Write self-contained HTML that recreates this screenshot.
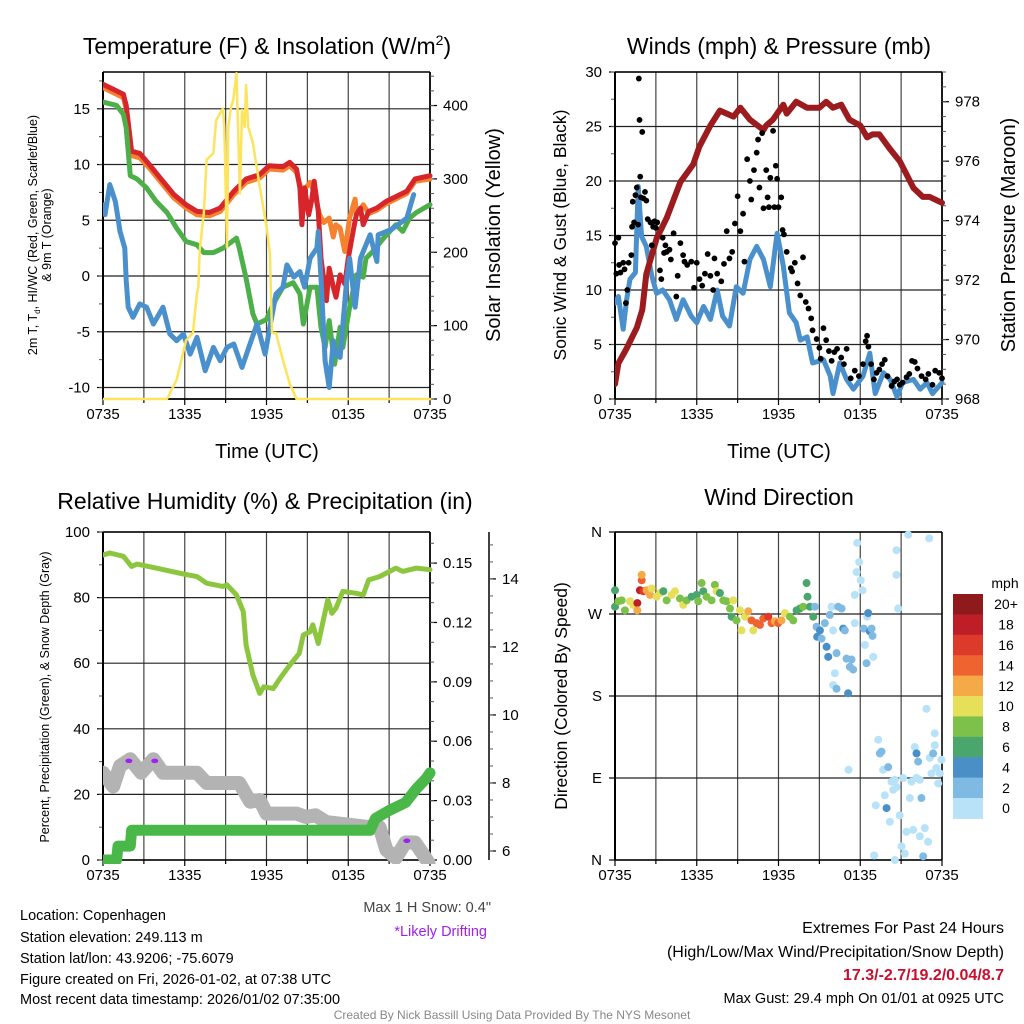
<!DOCTYPE html>
<html><head><meta charset="utf-8"><title>Mesonet Station Summary</title>
<style>
html,body{margin:0;padding:0;background:#fff;}
svg{display:block;font-family:"Liberation Sans",Arial,sans-serif;}
</style></head>
<body>
<svg id="fig" width="1024" height="1024" viewBox="0 0 1024 1024" xmlns="http://www.w3.org/2000/svg">
<rect width="1024" height="1024" fill="#fff"/>
<text x="267" y="54" font-size="23" text-anchor="middle">Temperature (F) &amp; Insolation (W/m<tspan font-size="14" dy="-9">2</tspan><tspan dy="9">)</tspan></text>
<text x="779" y="54" font-size="23" text-anchor="middle">Winds (mph) &amp; Pressure (mb)</text>
<text x="265" y="509" font-size="23" text-anchor="middle">Relative Humidity (%) &amp; Precipitation (in)</text>
<text x="779" y="505" font-size="23" text-anchor="middle">Wind Direction</text>
<text x="267" y="458" font-size="20" text-anchor="middle">Time (UTC)</text>
<text x="779" y="458" font-size="20" text-anchor="middle">Time (UTC)</text>
<text transform="translate(37,235) rotate(-90)" font-size="12.5" text-anchor="middle">2m T, T<tspan font-size="8" dy="3">d</tspan><tspan dy="-3">, HI/WC (Red, Green, Scarlet/Blue)</tspan></text>
<text transform="translate(51,235) rotate(-90)" font-size="12.5" text-anchor="middle">&amp; 9m T (Orange)</text>
<text transform="translate(500,235) rotate(-90)" font-size="20" text-anchor="middle">Solar Insolation (Yellow)</text>
<text transform="translate(566,235) rotate(-90)" font-size="17.5" text-anchor="middle">Sonic Wind &amp; Gust (Blue, Black)</text>
<text transform="translate(1015,235) rotate(-90)" font-size="20" text-anchor="middle">Station Pressure (Maroon)</text>
<text transform="translate(49,697) rotate(-90)" font-size="12.5" text-anchor="middle">Percent, Precipitation (Green), &amp; Snow Depth (Gray)</text>
<text transform="translate(567,696) rotate(-90)" font-size="17.5" text-anchor="middle">Direction (Colored By Speed)</text>
<g font-size="14.5">
<text x="20" y="920">Location: Copenhagen</text>
<text x="20" y="942">Station elevation: 249.113 m</text>
<text x="20" y="963">Station lat/lon: 43.9206; -75.6079</text>
<text x="20" y="984">Figure created on Fri, 2026-01-02, at 07:38 UTC</text>
<text x="20" y="1004">Most recent data timestamp: 2026/01/02 07:35:00</text>
</g>
<text x="491" y="912" font-size="14.5" fill="#444" text-anchor="end">Max 1 H Snow: 0.4"</text>
<text x="487" y="936" font-size="14.5" fill="#a020f0" text-anchor="end">*Likely Drifting</text>
<text x="1004" y="933" font-size="16" text-anchor="end">Extremes For Past 24 Hours</text>
<text x="1004" y="957" font-size="16" text-anchor="end">(High/Low/Max Wind/Precipitation/Snow Depth)</text>
<text x="1004" y="980" font-size="16" font-weight="bold" fill="#c8102e" text-anchor="end">17.3/-2.7/19.2/0.04/8.7</text>
<text x="1004" y="1003" font-size="14.5" text-anchor="end">Max Gust: 29.4 mph On 01/01 at 0925 UTC</text>
<text x="512" y="1019" font-size="12" fill="#888" text-anchor="middle">Created By Nick Bassill Using Data Provided By The NYS Mesonet</text>
</svg>
<script>
const timeTickHours=[0,6,12,18,24];
const timeTickLabels=["0735","1335","1935","0135","0735"];
const tempTicks=[-10,-5,0,5,10,15];
const solarTicks=[0,100,200,300,400];
const windTicks=[0,5,10,15,20,25,30];
const pressureTicks=[968,970,972,974,976,978];
const rhTicks=[0,20,40,60,80,100];
const precipTicks=[0,0.03,0.06,0.09,0.12,0.15];
const precipTickLabels=["0.00","0.03","0.06","0.09","0.12","0.15"];
const snowTicks=[6,8,10,12,14];
const dirTicks=[0,90,180,270,360];
const dirTickLabels=["N","E","S","W","N"];
const speedBinLabels=["0","2","4","6","8","10","12","14","16","18","20+"];
const speedBinColors=["#b8e2f7","#7fbae3","#4a8fc6","#4aa66c","#7ec14a","#e5df5a","#f6a947","#ee6330","#dc3a2a","#be1e27","#8f1a1c"];

const tempHours=[0,1.5,1.7,2.1,2.7,3.4,4.2,5.2,6.1,6.9,7.8,8.6,9.6,10.5,11.5,12.2,13.2,13.7,14.2,14.45,14.6,14.8,15.1,15.3,15.5,15.8,16.0,16.4,16.6,16.9,17.1,17.4,17.75,18,18.4,18.6,18.9,19.1,19.5,20.1,20.8,21.8,22.3,22.9,24];
const tempValues=[17.2,16.3,15.3,11.2,11,10,8.8,7.3,6.4,5.8,5.7,6.1,7.6,8.7,9.1,9.9,9.8,10.2,9.6,7.9,4.6,7.9,5.5,6.7,8.5,5.8,1.6,-2.2,0.7,-1,-1.9,0.1,-0.7,1.6,4.3,5.5,6.1,4.6,5.8,6.1,6.7,7.3,7.6,8.7,9.0];
const orangeHours=[0,1.5,1.7,2.1,2.7,3.4,4.2,5.2,6.1,6.9,7.8,8.6,9.6,10.5,11.5,12.2,13.2,13.7,14.2,14.5,14.8,15.2,15.5,15.9,16.2,16.6,16.9,17.1,17.4,17.75,18.1,18.5,18.6,18.9,19.1,19.5,20.1,20.8,21.8,22.3,22.9,24];
const orangeValues=[16.9,16,15,10.8,10.6,9.7,8.5,7,6.1,5.5,5.4,5.8,7.3,8.4,8.8,9.6,9.5,9.9,9.3,8.0,7.8,8.4,7.5,5.5,4.8,5.2,3.5,4.6,4.3,2.2,5.2,6.9,5.5,5.9,6.4,5.6,5.9,6.5,7.1,7.4,8.5,8.7];
const greenHours=[0,1,1.5,1.7,2,2.5,3.2,3.9,4.7,5.4,6.1,6.9,7.4,8.1,8.8,9.8,10,10.5,11,11.3,12,12.5,13.2,13.96,14.45,14.7,15.2,15.7,16,16.3,16.6,17,17.4,17.6,18.1,18.6,19.1,19.3,19.8,20.6,21.5,22,22.5,23,24];
const greenValues=[15.6,15.3,14.5,13.3,9,8.7,7.9,6.7,5.7,4.3,3.1,2.8,2.1,2.1,2.5,3.4,2.5,-0.2,-3.4,-4.3,-3.9,-2.5,-1,-0.6,-1.6,-4.3,-1,-1,-4.6,-6.4,-4,-7.9,-4.6,-6.4,-2.8,0.1,-0.1,1.6,2.2,3.4,4.6,4.0,5.2,5.7,6.4];
const blueHours=[0,0.15,0.5,0.9,1.1,1.25,1.6,1.7,1.85,2.2,2.7,3.2,3.7,4.4,4.9,5.4,5.9,6.4,6.9,7.5,8.1,8.6,9.1,9.6,10.2,10.7,11.3,11.9,12.2,12.7,13.2,13.5,14,14.45,14.8,15.2,15.7,15.8,16.0,16.3,16.6,16.9,17.1,17.4,17.9,18.1,18.5,18.9,19.3,19.6,20.1,20.2,21.2,22.3,22.8];
const blueValues=[6.4,5.5,8.2,6.7,5.2,4,2.5,-0.4,-2.8,-3.7,-2.5,-2.8,-4.3,-2.8,-5.2,-5.8,-5.2,-7,-5.5,-8.5,-6.4,-7.6,-6.4,-6.1,-8.2,-6.4,-4.3,-7,-4.9,-1.6,-1,1,-0.1,0.4,-1,1.6,2.5,4,-0.2,-7.6,-10,-5.8,-7,-7.3,-0.1,1.6,-2.8,1.6,2.8,3.7,1.3,3.7,4.2,5.2,7.3];
const solarHours=[0,4.7,5.4,6.1,6.6,6.9,7.0,7.1,7.4,7.6,8.1,8.3,8.8,8.9,9.1,9.2,9.4,9.56,9.8,10.05,10.2,10.4,10.5,10.66,11.0,11.5,12,12.25,12.4,12.7,13.2,13.7,14.2,24];
const solarValues=[0,0,26,80,90,144,153,203,253,326,335,380,396,371,207,371,398,408,444,280,394,371,428,371,349,290,235,199,90,90,53,21,0,0];

const windHours=[0,0.25,0.6,0.85,1.1,1.5,1.7,1.95,2.3,2.7,3.05,3.5,4.0,4.5,5.0,5.6,6,6.5,7,7.5,7.9,8.4,8.9,9.4,9.9,10.4,10.9,11.4,11.9,12.35,12.8,13.3,13.6,14.1,14.5,15.3,15.8,16,16.5,17,17.5,18.2,18.7,19.1,19.7,20.2,20.7,21.1,21.9,22.4,22.9,23.3,24];
const windValues=[8.8,9.4,6.4,9.1,11,11.6,19.5,14.9,14,11.3,9.7,10,9.1,7.3,9.1,7.6,7,8.5,7.3,10,7.6,6.7,10.3,9.7,12.8,14,12.8,10.3,15.2,12.2,7.9,7,5.4,5.7,3.3,3.6,2.1,0.5,3.3,1.8,0.9,2.1,4.2,0.5,2.4,1.8,0.2,1.5,1.8,0.9,1.5,0.5,1.5];
const pressureHours=[0,0.25,0.85,1.6,2,2.3,3.05,3.8,4.8,5.75,6.2,7,7.7,8.7,9.2,9.9,10.9,11.1,11.6,12.35,12.6,13.3,14.1,15,15.5,16,16.6,17.2,18,18.5,18.9,19.4,20.2,20.9,21.9,22.6,23.1,24];
const pressureValues=[968.5,969.2,969.7,970.4,971,972.2,973.4,974.1,975.3,975.9,976.5,977.2,977.7,977.5,977.8,977.4,977.05,977.2,977.4,977.9,977.6,978,977.8,977.8,978,977.8,977.9,977.4,977.2,976.8,976.9,976.9,976.4,976,975.1,974.8,974.8,974.6];
const gustObs=[[0,14.3],[0.1,11.5],[0.25,14.8],[0.3,12.3],[0.4,11.6],[0.6,12.5],[0.7,11.9],[0.8,8.8],[0.9,10],[1.0,12.5],[1.2,13.2],[1.25,15.8],[1.3,18.1],[1.4,16.2],[1.5,18.7],[1.6,19.4],[1.7,16],[1.75,29.4],[1.8,25.6],[1.85,20.4],[1.9,18.5],[2.0,24.5],[2.1,18.4],[2.2,19],[2.3,18.2],[2.4,16.5],[2.6,16.2],[2.7,14.1],[2.8,15.8],[2.9,16.3],[3.0,15.7],[3.1,16.2],[3.3,11.8],[3.4,11],[3.5,14.8],[3.6,13.4],[3.7,14.1],[3.8,13.5],[4.0,13.7],[4.1,12.8],[4.3,15.2],[4.5,9.4],[4.6,11.3],[4.8,14.3],[5.0,13.2],[5.1,12.6],[5.3,12.3],[5.6,12.6],[5.8,10.2],[6.0,12.5],[6.2,11],[6.4,10.4],[6.6,11.5],[6.8,13.3],[7.0,11.3],[7.2,10],[7.3,12.9],[7.5,11.5],[7.8,10.8],[8.0,12.4],[8.2,15.4],[8.4,12.9],[8.6,13.5],[8.8,16.1],[9.0,18.6],[9.2,15.4],[9.4,17],[9.5,12.6],[9.7,22],[9.9,20],[10.0,18.3],[10.2,21],[10.4,22.6],[10.5,23.8],[10.6,19.4],[10.8,24.4],[10.9,17.5],[11.1,21],[11.2,18.5],[11.3,17.6],[11.4,20.3],[11.6,24.6],[11.7,17.6],[11.8,21.4],[11.9,20.2],[12.0,17.6],[12.2,18.5],[12.3,15.5],[12.4,15.1],[12.6,13.5],[12.9,12],[13.0,11.7],[13.2,12.5],[13.4,10.6],[13.6,9.5],[13.8,13],[14.0,8.9],[14.2,8.3],[14.4,7.4],[14.5,6.3],[14.8,5.5],[15.0,4.7],[15.1,3.7],[15.3,6.5],[15.5,5.4],[15.7,4.4],[15.9,3.5],[16.1,4.3],[16.3,4.6],[16.6,3.8],[16.8,3.2],[17.0,4.6],[17.3,1.9],[17.6,2.6],[17.9,2.1],[18.2,3.2],[18.4,5.3],[18.5,5.8],[18.6,4.8],[18.8,3.2],[19.0,1.8],[19.2,2.4],[19.4,2.7],[19.6,3.2],[19.8,3.6],[20.0,2.1],[20.3,1.2],[20.5,1.6],[20.7,1.8],[20.9,1.3],[21.1,1.5],[21.4,2],[21.6,2.3],[21.8,3.5],[22.0,3.4],[22.2,2.8],[22.5,2.1],[22.8,1.8],[23.0,2.3],[23.3,1.3],[23.5,2.6],[23.8,2.4],[24,1.9]];

const rhHours=[0,0.5,1.5,2.1,2.5,3.9,5.9,6.9,7.6,8.8,9.1,9.8,10.3,10.5,11,11.5,11.8,12.5,13,13.7,14.4,14.7,15.2,15.4,15.8,16.2,16.5,16.8,17.1,17.6,18.6,19.1,19.5,20.3,21.5,22,23,24];
const rhValues=[93,93.6,92.6,89.5,90.2,89,87.2,86.4,84.4,83.4,83.9,80.8,75.7,65.5,56.4,50.8,52.8,52.3,55.4,59.4,63,68.6,69.6,71.7,66,73.7,79.3,75.2,76.8,81.9,81.3,80.8,85.4,86.4,89,88,89,88.5];
const snowHours=[0,0.75,1.25,2.0,2.8,3.7,4.4,6.9,7.6,10.0,10.8,11.5,12.0,14.2,14.9,15.6,16.4,19.6,20.3,20.8,21.5,22.2,22.9,23.5,23.9];
const snowValues=[8.3,7.9,8.5,8.7,8.3,8.7,8.3,8.3,8.0,8.0,7.45,7.5,7.1,7.1,7.0,7.05,6.85,6.7,6.7,6.03,5.8,6.25,6.25,5.9,5.65];
const precipHours=[0,1,1.1,2,2.1,19.6,20,21,22.2,23,23.7,24];
const precipValues=[0,0,0.007,0.007,0.015,0.015,0.021,0.025,0.029,0.036,0.041,0.044];
const driftHours=[1.9,3.8,22.3];
const driftValues=[8.65,8.65,6.3];

const dirObs=[[0,296,7],[0,278,7],[0.24,284,8],[0.49,285,8],[0.73,274,8],[1.1,284,10],[1.34,280,10],[1.64,282,18],[1.64,274,12],[1.83,296,18],[1.96,307,14],[1.96,313,12],[2.08,295,16],[2.32,296,12],[2.57,291,12],[2.69,298,10],[3.06,289,10],[3.3,293,10],[3.55,295,7],[3.79,285,8],[4.16,291,10],[4.4,295,10],[4.77,287,8],[5.01,280,10],[5.26,285,8],[5.62,289,7],[5.99,291,6],[6.11,284,8],[6.36,304,8],[6.48,295,7],[6.72,289,8],[7.09,285,8],[7.33,302,8],[7.46,295,10],[7.7,293,7],[7.95,285,8],[8.19,284,8],[8.44,276,8],[8.56,267,6],[8.68,285,10],[8.92,263,8],[9.17,274,10],[9.29,252,10],[9.54,267,10],[9.78,273,12],[10.02,263,14],[10.15,252,10],[10.39,260,14],[10.64,258,14],[10.88,265,14],[11.25,267,16],[11.49,260,14],[11.74,262,12],[11.98,260,14],[12.22,263,12],[12.47,271,10],[12.84,267,8],[13.08,263,8],[13.33,274,6],[13.57,276,6],[13.81,278,8],[14.06,304,6],[14.13,289,6],[14.3,278,6],[14.55,267,6],[14.67,278,2],[14.79,256,2],[14.84,245,4],[15.04,252,4],[15.16,243,2],[15.4,260,2],[15.53,234,4],[15.65,223,4],[15.77,269,2],[15.89,278,0],[16.01,252,0],[16.14,205,0],[16.01,192,0],[16.26,188,2],[16.26,227,2],[16.38,278,2],[16.63,276,2],[16.75,254,4],[16.87,252,2],[16.99,221,2],[17.11,183,4],[17.24,212,2],[17.36,220,2],[17.48,209,2],[17.6,260,0],[17.6,291,0],[17.73,316,0],[17.78,348,0],[17.92,327,0],[18.04,307,0],[18.17,296,0],[18.26,254,2],[18.34,236,0],[18.46,216,2],[18.51,267,0],[18.58,271,4],[18.7,251,4],[18.83,254,2],[18.9,246,2],[18.95,223,0],[19.02,5,0],[19.14,60,0],[19.32,132,0],[19.44,117,2],[19.56,119,2],[19.68,99,0],[19.8,71,0],[19.93,57,4],[20.05,102,2],[20.17,42,0],[20.29,86,0],[20.42,77,0],[20.54,0,0],[20.54,88,0],[20.66,340,0],[20.66,313,0],[20.78,276,0],[20.9,49,0],[21.03,15,0],[21.15,90,0],[21.27,7,0],[21.39,31,0],[21.52,357,0],[21.64,68,0],[21.76,86,0],[21.88,33,0],[22.0,124,0],[22.13,117,4],[22.13,90,0],[22.25,108,2],[22.37,26,0],[22.49,68,2],[22.62,4,2],[22.74,35,0],[22.86,166,0],[22.98,20,0],[23.06,353,0],[23.1,112,0],[23.23,95,0],[23.35,117,2],[23.47,139,0],[23.47,126,0],[23.59,101,0],[23.72,84,0],[23.84,95,0],[23.96,110,0],[17.14,99,0],[22.37,88,0],[20.66,80,0]];

const NS="http://www.w3.org/2000/svg";
const svg=document.getElementById("fig");
function mk(tag,attrs,parent){const e=document.createElementNS(NS,tag);for(const k in attrs)e.setAttribute(k,attrs[k]);(parent||svg).appendChild(e);return e;}
function scale(d0,d1,r0,r1){return v=>r0+(v-d0)*(r1-r0)/(d1-d0);}
function pathD(xs,ys,sx,sy){let d="";for(let i=0;i<xs.length;i++){d+=(i?"L":"M")+sx(xs[i]).toFixed(1)+","+sy(ys[i]).toFixed(1);}return d;}

const panels={
 p1:{x0:103,x1:430,y0:72,y1:399},
 p2:{x0:615,x1:942,y0:72,y1:399},
 p3:{x0:103,x1:430,y0:532,y1:860},
 p4:{x0:615,x1:942,y0:532,y1:860}
};
function frame(p,name,yTicks,sy,minorTicks,labels){
 const g=mk("g",{});
 
 
 const sx=scale(0,24,p.x0,p.x1);
 for(let h=0;h<=24;h+=3){
  const l=mk("line",{x1:sx(h),x2:sx(h),y1:p.y0,y2:p.y1,stroke:"#444","stroke-width":1.2},g);
  
  
  mk("line",{x1:sx(h),x2:sx(h),y1:p.y1,y2:p.y1+(h%6===0?6:4),stroke:"#000","stroke-width":1.2},g);
 }
 timeTickHours.forEach((h,i)=>{
  const t=mk("text",{x:sx(h),y:p.y1+20,"font-size":15,"text-anchor":"middle"},g);
  t.textContent=timeTickLabels[i];
  
  
 });
 yTicks.forEach((v,i)=>{
  const y=sy(v);
  const l=mk("line",{x1:p.x0,x2:p.x1,y1:y,y2:y,stroke:"#222","stroke-width":1.2},g);
  
  
  mk("line",{x1:p.x0-6,x2:p.x0,y1:y,y2:y,stroke:"#000","stroke-width":1.2},g);
  const t=mk("text",{x:p.x0-13,y:y+5,"font-size":15,"text-anchor":"end"},g);
  t.textContent=labels?labels[i]:String(v);
  
  
 });
 (minorTicks||[]).forEach(v=>{mk("line",{x1:p.x0-4,x2:p.x0,y1:sy(v),y2:sy(v),stroke:"#555","stroke-width":1},g);});
 mk("line",{x1:p.x0,x2:p.x0,y1:p.y0,y2:p.y1,stroke:"#000","stroke-width":2},g);
 mk("line",{x1:p.x1,x2:p.x1,y1:p.y0,y2:p.y1,stroke:"#000","stroke-width":1.5},g);
 mk("line",{x1:p.x0,x2:p.x1,y1:p.y0,y2:p.y0,stroke:"#000","stroke-width":1.5},g);
 mk("line",{x1:p.x0,x2:p.x1,y1:p.y1,y2:p.y1,stroke:"#000","stroke-width":1.5},g);
 return sx;
}
function rightAxis(p,ax,ticks,sy,minor,labels,name){
 const g=mk("g",{});
 
 
 mk("line",{x1:ax,x2:ax,y1:p.y0,y2:p.y1,stroke:"#000","stroke-width":1.5},g);
 ticks.forEach((v,i)=>{
  const y=sy(v);
  mk("line",{x1:ax,x2:ax+7,y1:y,y2:y,stroke:"#000","stroke-width":1.2},g);
  const t=mk("text",{x:ax+13,y:y+5,"font-size":15},g);
  t.textContent=labels?labels[i]:String(v);
  
  
 });
 minor.forEach(v=>{mk("line",{x1:ax,x2:ax+4,y1:sy(v),y2:sy(v),stroke:"#555","stroke-width":1},g);});
}
function range(a,b,s){const r=[];for(let v=a;v<=b+1e-9;v+=s)r.push(+v.toFixed(4));return r;}
function series(xs,ys,sx,sy,color,w,name,clip){
 const p=mk("path",{d:pathD(xs,ys,sx,sy),fill:"none",stroke:color,"stroke-width":w,"stroke-linejoin":"round","stroke-linecap":"round","clip-path":clip?"url(#"+clip+")":""});
 
 
 return p;
}
const defs=mk("defs",{});
for(const k in panels){const p=panels[k];const c=mk("clipPath",{id:"clip-"+k},defs);mk("rect",{x:p.x0,y:p.y0-4,width:p.x1-p.x0+6,height:p.y1-p.y0+8},c);}

// Panel 1
const P1=panels.p1;
const sy1=scale(-11.03,18.3,P1.y1,P1.y0);
const sy1r=scale(0,445.7,P1.y1,P1.y0);
const sx1=frame(P1,"temperature",tempTicks,sy1,range(-10,17.5,2.5));
mk("line",{x1:P1.x0,x2:P1.x1,y1:sy1(-11.03),y2:sy1(-11.03),stroke:"#000","stroke-width":1.5});
rightAxis(P1,P1.x1,solarTicks,sy1r,range(0,440,20),null,"solar-right-axis");
series(orangeHours,orangeValues,sx1,sy1,"#f5822f",5,"temp-9m-line","clip-p1");
series(tempHours,tempValues,sx1,sy1,"#d7262b",5,"temp-2m-line","clip-p1");
series(greenHours,greenValues,sx1,sy1,"#4daf4a",5,"dewpoint-line","clip-p1");
series(blueHours,blueValues,sx1,sy1,"#4a90cc",5,"windchill-line","clip-p1");
series(solarHours,solarValues,sx1,sy1r,"#fde45c",2.5,"solar-line","clip-p1");

// Panel 2
const P2=panels.p2;
const sy2=scale(0,30,P2.y1,P2.y0);
const sy2r=scale(968,979.0,P2.y1,P2.y0);
const sx2=frame(P2,"winds",windTicks,sy2,range(0,30,2.5));
rightAxis(P2,P2.x1,pressureTicks,sy2r,range(968,979,0.5),null,"pressure-right-axis");
series(windHours,windValues,sx2,sy2,"#4a90cc",5,"wind-speed-line","clip-p2");
series(pressureHours,pressureValues,sx2,sy2r,"#9b1b1e",6,"pressure-line","clip-p2");
gustObs.forEach(o=>{
 const c=mk("circle",{cx:sx2(o[0]),cy:sy2(o[1]),r:2.9,fill:"#000"});
 
 
});

// Panel 3
const P3=panels.p3;
const sy3=scale(0,100,P3.y1,P3.y0);
const sy3p=scale(0,0.1657,P3.y1,P3.y0);
const sy3s=scale(5.735,15.38,P3.y1,P3.y0);
const sx3=frame(P3,"humidity",rhTicks,sy3,range(0,100,10));
rightAxis(P3,P3.x1,precipTicks,sy3p,range(0,0.16,0.01),precipTickLabels,"precip-right-axis");
rightAxis(P3,489,snowTicks,sy3s,range(6,15,0.5),null,"snow-right-axis");
series(rhHours,rhValues,sx3,sy3,"#8cc63f",5,"humidity-line","clip-p3");
series(snowHours,snowValues,sx3,sy3s,"#b3b3b3",14,"snow-depth-line","clip-p3");
series(precipHours,precipValues,sx3,sy3p,"#4ab848",11,"precip-line","clip-p3");
driftHours.forEach((h,i)=>{
 const e=mk("ellipse",{cx:sx3(h),cy:sy3s(driftValues[i]),rx:3.5,ry:2.3,fill:"#a020f0"});
 
 
});

// Panel 4
const P4=panels.p4;
const sy4=scale(0,360,P4.y1,P4.y0);
const sx4=frame(P4,"wind-direction",dirTicks,sy4,[],dirTickLabels);
dirObs.forEach(o=>{
 const bin=Math.min(10,Math.floor(o[2]/2));
 const c=mk("circle",{cx:sx4(o[0]),cy:sy4(o[1]),r:4,fill:speedBinColors[bin]});
 
 
});
// colorbar
const cbTop=594,cbH=20.4,cbX=953,cbW=30;
const cbLabel=mk("text",{x:1005,y:588,"font-size":14,"text-anchor":"middle"});
cbLabel.textContent="mph";


for(let i=0;i<speedBinLabels.length;i++){
 const idx=speedBinLabels.length-1-i;
 const r=mk("rect",{x:cbX,y:cbTop+i*cbH,width:cbW,height:cbH+0.5,fill:speedBinColors[idx]});
 
 
 const t=mk("text",{x:1006,y:cbTop+i*cbH+cbH/2+5,"font-size":14,"text-anchor":"middle"});
 t.textContent=speedBinLabels[idx];
 
 
}
</script>
</body></html>
